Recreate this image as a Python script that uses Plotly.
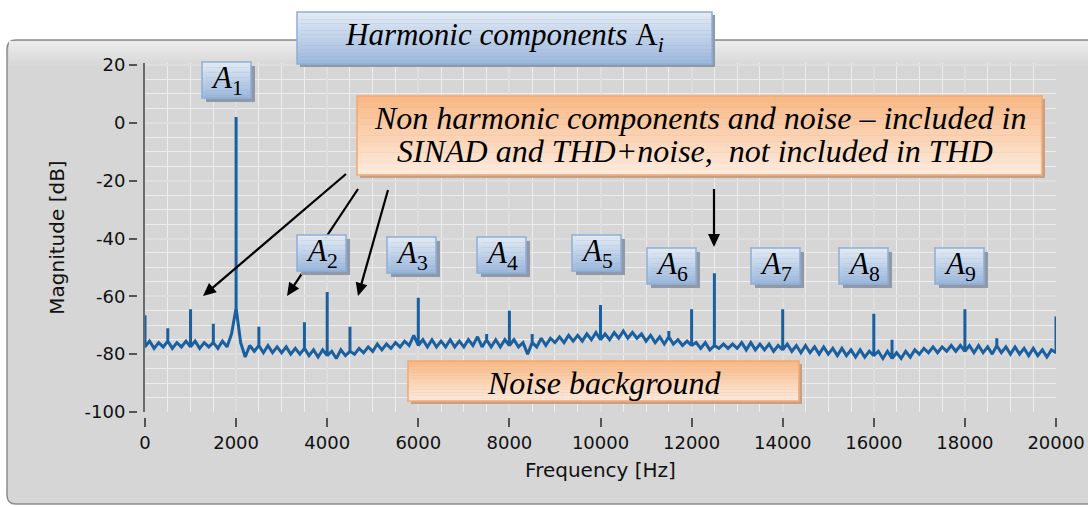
import plotly.graph_objects as go

# ---------------- data ----------------
noise_freq = list(range(0, 20001, 100))  # Hz, spectrum bins
noise_db = [
    -77.5, -75.5, -78, -76, -77.5, -75.5, -78, -76, -77.5, -75.5,
    -77.5, -75.5, -78, -76, -77.5, -76, -78, -75.5, -77.5, -73,
    -64, -76, -81, -77, -79, -77, -79.5, -77, -79.5, -77.5,
    -79.5, -77.5, -80, -78, -80, -78, -80.5, -78.5, -81, -78.5,
    -80.5, -79, -81.5, -78.5, -80.5, -79, -80, -78, -79.5, -77.5,
    -79, -76.5, -78.5, -76.5, -78, -76, -77.5, -75.5, -77, -73.5,
    -77, -75, -77.5, -75, -77.5, -75.5, -77.5, -75, -77.5, -75.5,
    -77.5, -75, -77, -74, -77.5, -75, -77.5, -75, -77.5, -75,
    -77, -75, -77.5, -76, -80, -76, -77.5, -74.5, -77, -74.5,
    -76, -74, -76, -73.5, -75.5, -73.5, -75.5, -73, -75, -72.5,
    -75, -73, -75, -72.5, -74.5, -72, -74.5, -72.5, -74.5, -73,
    -75.5, -73.5, -76, -74, -76.5, -74, -76.5, -75, -77, -75.5,
    -77, -76, -78, -76, -78.5, -77, -78, -76.5, -78, -76.5,
    -78, -76, -78.5, -76, -78.5, -76.5, -78.5, -76.5, -79, -77,
    -78.5, -76.5, -79, -77, -79.5, -77, -79.5, -77.5, -80, -77.5,
    -80, -78, -80.5, -78, -80.5, -78.5, -81, -78.5, -81, -79,
    -80.5, -79, -81.5, -79, -81.5, -79.5, -81.5, -79, -81, -78.5,
    -80, -78, -79.5, -77.5, -79.5, -77.5, -79, -77, -79, -77,
    -79, -77, -79.5, -77, -79.5, -77.5, -80, -77, -79.5, -77.5,
    -80, -77.5, -80, -78, -80.5, -78, -80.5, -78.5, -81, -78.5,
    -79.5,
]
spike_freq = [0, 500, 1000, 1500, 2000, 2500, 3500, 4000, 4500, 6000, 7500, 8000,
              8500, 10000, 11500, 12000, 12500, 14000, 16000, 16400, 18000, 18700, 20000]
spike_db = [-66.5, -71, -64.5, -69.5, 2, -70.5, -69, -58.5, -70.5, -60.5, -73, -65,
            -73, -63, -72, -64.5, -52, -64.5, -66, -75, -64.5, -74.5, -67]

x_tick_vals = [0, 2000, 4000, 6000, 8000, 10000, 12000, 14000, 16000, 18000, 20000]
y_tick_vals = [-100, -80, -60, -40, -20, 0, 20]

harmonic_labels = ["1", "2", "3", "4", "5", "6", "7", "8", "9"]

# ---------------- build the spectrum series ----------------
spikes = dict(zip(spike_freq, spike_db))
xs, ys = [], []
for f, v in zip(noise_freq, noise_db):
    if f in spikes:
        xs += [f, f, f]
        ys += [v, spikes[f], v]
    else:
        xs.append(f)
        ys.append(v)

# ---------------- geometry helpers (pixel -> paper) ----------------
W, H = 1088, 507
PL, PR, PT, PB = 145, 1056, 63, 412


def px(x):
    return (x - PL) / (PR - PL)


def py(y):
    return (PB - y) / (PB - PT)


def mix(c1, c2, t):
    a = [int(c1[i:i + 2], 16) for i in (1, 3, 5)]
    b = [int(c2[i:i + 2], 16) for i in (1, 3, 5)]
    return "#%02x%02x%02x" % tuple(round(a[k] + (b[k] - a[k]) * t) for k in range(3))


shapes = []
annotations = []

# outer gray panel (rounded)
x0, y0, x1, y1, r = 7, 40, 1100, 504, 9
panel_path = (f"M {px(x0 + r)},{py(y0)} L {px(x1)},{py(y0)} L {px(x1)},{py(y1)} "
              f"L {px(x0 + r)},{py(y1)} Q {px(x0)},{py(y1)} {px(x0)},{py(y1 - r)} "
              f"L {px(x0)},{py(y0 + r)} Q {px(x0)},{py(y0)} {px(x0 + r)},{py(y0)} Z")
shapes.append(dict(type="path", xref="paper", yref="paper", path=panel_path,
                   fillcolor="#d6d6d6", line=dict(color="#8c8c8c", width=1.5), layer="below"))
# lighter top band of panel
n = 8
for i in range(n):
    ya = 41 + i * 3
    shapes.append(dict(type="rect", xref="paper", yref="paper",
                       x0=px(x0 + 2), x1=px(x1), y0=py(ya), y1=py(ya + 3),
                       fillcolor=mix("#ebebeb", "#d6d6d6", i / n),
                       line=dict(width=0), layer="below"))

# dark y-axis line at plot edge
shapes.append(dict(type="line", xref="paper", yref="paper", x0=px(144), x1=px(144),
                   y0=py(PT), y1=py(PB), line=dict(color="#6a6a6a", width=2), layer="above"))


# arrows (drawn before boxes so boxes overlap them)
def arrow(tx, ty, hx, hy, hl=13, hw=6):
    dx, dy = hx - tx, hy - ty
    ln = (dx * dx + dy * dy) ** 0.5
    ux, uy = dx / ln, dy / ln
    bx, by = hx - ux * hl, hy - uy * hl
    nx, ny = -uy, ux
    shapes.append(dict(type="line", xref="paper", yref="paper",
                       x0=px(tx), y0=py(ty), x1=px(bx + ux * 2), y1=py(by + uy * 2),
                       line=dict(color="black", width=2.2), layer="above"))
    tri = (f"M {px(hx)},{py(hy)} L {px(bx + nx * hw)},{py(by + ny * hw)} "
           f"L {px(bx - nx * hw)},{py(by - ny * hw)} Z")
    shapes.append(dict(type="path", xref="paper", yref="paper", path=tri,
                       fillcolor="black", line=dict(width=0), layer="above"))


arrow(346, 174, 203, 296)
arrow(358, 189, 287, 296)
arrow(388, 190, 358, 296)
arrow(714, 189, 714, 247)


def gbox(bx0, by0, bx1, by1, ctop, cbot, border, shadow, off=3, n=14):
    shapes.append(dict(type="rect", xref="paper", yref="paper",
                       x0=px(bx0 + off), x1=px(bx1 + off), y0=py(by0 + off), y1=py(by1 + off),
                       fillcolor=shadow, line=dict(width=0), layer="above"))
    h = (by1 - by0) / n
    for i in range(n):
        shapes.append(dict(type="rect", xref="paper", yref="paper",
                           x0=px(bx0), x1=px(bx1), y0=py(by0 + i * h), y1=py(by0 + (i + 1) * h + 0.3),
                           fillcolor=mix(ctop, cbot, i / (n - 1)),
                           line=dict(width=0), layer="above"))
    shapes.append(dict(type="rect", xref="paper", yref="paper",
                       x0=px(bx0), x1=px(bx1), y0=py(by0), y1=py(by1),
                       fillcolor="rgba(0,0,0,0)", line=dict(color=border, width=1.5), layer="above"))


SERIF = "Liberation Serif, Times New Roman, serif"
BLUE_T, BLUE_B, BLUE_L, BLUE_S = "#e1e9f4", "#9db9de", "#8eaed6", "#8f99a8"
OR_T, OR_B, OR_L, OR_S = "#f8b987", "#fdeadb", "#f3a870", "#c79f86"

# title box
gbox(297, 12, 712, 64, BLUE_T, BLUE_B, BLUE_L, BLUE_S)
annotations.append(dict(xref="paper", yref="paper", x=px(504), y=py(37), showarrow=False,
                        text="<i>Harmonic components </i>A<sub><i>i</i></sub>",
                        font=dict(family=SERIF, size=31, color="black"),
                        xanchor="center", yanchor="middle"))

# non harmonic box
gbox(357, 96, 1042, 175, OR_T, OR_B, OR_L, OR_S)
annotations.append(dict(xref="paper", yref="paper", x=px(700), y=py(118), showarrow=False,
                        text="<i>Non harmonic components and noise \u2013 included in</i>",
                        font=dict(family=SERIF, size=32, color="black"),
                        xanchor="center", yanchor="middle"))
annotations.append(dict(xref="paper", yref="paper", x=px(695), y=py(151), showarrow=False,
                        text="<i>SINAD and THD+noise,&nbsp; not included in THD</i>",
                        font=dict(family=SERIF, size=32, color="black"),
                        xanchor="center", yanchor="middle"))

# noise background box
gbox(408, 361, 799, 401, OR_T, OR_B, OR_L, OR_S)
annotations.append(dict(xref="paper", yref="paper", x=px(604), y=py(383), showarrow=False,
                        text="<i>Noise background</i>",
                        font=dict(family=SERIF, size=32, color="black"),
                        xanchor="center", yanchor="middle"))

# harmonic label boxes
a_pos = [(202, 62), (297, 235), (387, 237), (477, 237), (572, 235),
         (647, 248), (751, 248), (839, 248), (935, 248)]
for lab, (ax0, ay0) in zip(harmonic_labels, a_pos):
    gbox(ax0, ay0, ax0 + 49, ay0 + 36, BLUE_T, BLUE_B, BLUE_L, BLUE_S, off=4)
    annotations.append(dict(xref="paper", yref="paper", x=px(ax0 + 25), y=py(ay0 + 18),
                            showarrow=False, text=f"<i>A</i><sub>{lab}</sub>",
                            font=dict(family=SERIF, size=31, color="black"),
                            xanchor="center", yanchor="middle"))

# ---------------- figure ----------------
fig = go.Figure()
fig.add_trace(go.Scatter(x=xs, y=ys, mode="lines",
                         line=dict(color="#1a5f9f", width=3.0), hoverinfo="skip",
                         showlegend=False))

TICKFONT = dict(family="DejaVu Sans, Verdana, sans-serif", size=18, color="#111111")
TITLEFONT = dict(family="DejaVu Sans, Verdana, sans-serif", size=20, color="#111111")
fig.update_layout(
    width=W, height=H,
    margin=dict(l=PL, r=W - PR, t=PT, b=H - PB, autoexpand=False),
    paper_bgcolor="white", plot_bgcolor="white",
    shapes=shapes, annotations=annotations,
    xaxis=dict(range=[0, 20000], tickvals=x_tick_vals, ticktext=[str(v) for v in x_tick_vals],
               automargin=False,
               showgrid=True, gridcolor="#dedede", gridwidth=2,
               minor=dict(dtick=500, showgrid=True, gridcolor="#ededed", gridwidth=1),
               zeroline=False, showline=True, linecolor="#d6d6d6", linewidth=6,
               ticks="outside", ticklen=9, tickwidth=2, tickcolor="#555555",
               tickfont=TICKFONT,
               title=dict(text="Frequency [Hz]", font=TITLEFONT, standoff=13)),
    yaxis=dict(range=[-100, 20.7], tickvals=y_tick_vals, ticktext=[str(v) for v in y_tick_vals],
               automargin=False,
               showgrid=True, gridcolor="#dedede", gridwidth=2,
               minor=dict(dtick=5, showgrid=True, gridcolor="#ededed", gridwidth=1),
               zeroline=False, showline=True, linecolor="#d6d6d6", linewidth=8,
               ticks="outside", ticklen=8, tickwidth=2, tickcolor="#555555",
               tickfont=TICKFONT,
               title=dict(text="Magnitude [dB]", font=TITLEFONT, standoff=18)),
)

fig.write_html("out.html")
